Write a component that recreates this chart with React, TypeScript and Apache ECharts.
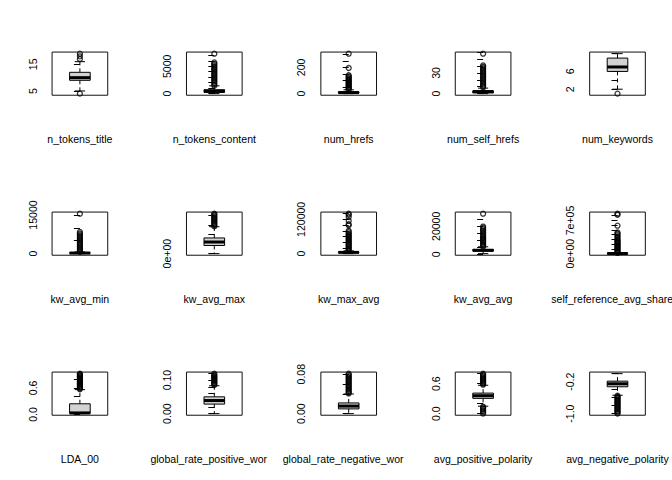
import React, { useEffect, useRef } from "react";
import * as echarts from "echarts";

const variableNames = [
  "n_tokens_title", "n_tokens_content", "num_hrefs", "num_self_hrefs", "num_keywords",
  "kw_avg_min", "kw_avg_max", "kw_max_avg", "kw_avg_avg", "self_reference_avg_sharess",
  "LDA_00", "global_rate_positive_words", "global_rate_negative_words", "avg_positive_polarity", "avg_negative_polarity",
];

// five-number box statistics per variable
const lowerWhisker = [5, 0, 0, 0, 2, 0, 0, 0, 550, 0, 0.018, 0, 0, 0.149, -0.54];
const lowerHinge = [9, 250, 4, 1, 6, 140, 172000, 3560, 2380, 1000, 0.025, 0.0284, 0.0096, 0.306, -0.328];
const medianValue = [10, 410, 8, 3, 7, 235, 245000, 4360, 2870, 2200, 0.034, 0.039, 0.0153, 0.359, -0.253];
const upperHinge = [12, 720, 14, 4, 9, 355, 331000, 6020, 3600, 5200, 0.24, 0.05, 0.0217, 0.411, -0.187];
const upperWhisker = [16, 1420, 29, 8, 10, 675, 568000, 9700, 5400, 11500, 0.56, 0.083, 0.0398, 0.568, 0];

// outliers per variable
const out_n_tokens_title = [4, 17, 18, 19];
const out_n_tokens_content = [1450, 1700, 1950, 2200, 2450, 2700, 2950, 3200, 3450, 3700, 3950, 4200, 4450, 4700, 4950, 5200, 5450, 5700, 7300];
const out_num_hrefs = [31, 38, 45, 52, 59, 66, 73, 80, 87, 94, 101, 108, 115, 123, 131, 140, 195, 304];
const out_num_self_hrefs = [9, 11, 13, 15, 17, 19, 21, 23, 25, 27, 29, 31, 33, 35, 37, 39, 41, 58];
const out_num_keywords = [1];
const out_kw_avg_min = [700, 1200, 1700, 2200, 2700, 3200, 3700, 4200, 4700, 5200, 5700, 6200, 6700, 7200, 7800, 8400, 15500];
const out_kw_avg_max = [575000, 600000, 625000, 650000, 675000, 700000, 725000, 750000, 775000, 800000, 825000, 843300];
const out_kw_max_avg = [10000, 14000, 18000, 22000, 26000, 30000, 34000, 38000, 42000, 46000, 50000, 54000, 58000, 62000, 66000, 70000, 75000, 80000, 99000, 103000, 115000, 128000, 136000, 140000];
const out_kw_avg_avg = [5500, 6300, 7100, 7900, 8700, 9500, 10300, 11100, 11900, 12800, 13800, 14800, 15800, 16800, 17800, 18800, 19800, 29000];
const out_self_reference_avg_sharess = [15000, 35000, 55000, 75000, 95000, 115000, 135000, 155000, 175000, 195000, 215000, 235000, 255000, 275000, 300000, 330000, 360000, 390000, 420000, 445000, 590000, 820000, 843300];
const out_LDA_00 = [0.57, 0.59, 0.61, 0.63, 0.65, 0.67, 0.69, 0.71, 0.73, 0.75, 0.77, 0.79, 0.81, 0.83, 0.85, 0.87, 0.89, 0.91, 0.92];
const out_global_rate_positive_words = [0.085, 0.088, 0.091, 0.094, 0.097, 0.1, 0.103, 0.106, 0.109, 0.112, 0.115, 0.119];
const out_global_rate_negative_words = [0.041, 0.0435, 0.046, 0.0485, 0.051, 0.0535, 0.056, 0.0585, 0.061, 0.0635, 0.066, 0.0685, 0.071, 0.0735, 0.076, 0.0785, 0.081];
const out_avg_positive_polarity = [0, 0.025, 0.05, 0.075, 0.1, 0.125, 0.14, 0.58, 0.6, 0.62, 0.64, 0.66, 0.68, 0.7, 0.72, 0.74, 0.76, 0.78, 0.8];
const out_avg_negative_polarity = [-0.55, -0.575, -0.6, -0.625, -0.65, -0.675, -0.7, -0.725, -0.75, -0.775, -0.8, -0.825, -0.85, -0.875, -0.9, -0.925, -0.95, -0.975, -1];

const outliers = [
  out_n_tokens_title, out_n_tokens_content, out_num_hrefs, out_num_self_hrefs, out_num_keywords,
  out_kw_avg_min, out_kw_avg_max, out_kw_max_avg, out_kw_avg_avg, out_self_reference_avg_sharess,
  out_LDA_00, out_global_rate_positive_words, out_global_rate_negative_words, out_avg_positive_polarity, out_avg_negative_polarity,
];

// y-axis tick positions
const tickValues = [
  [5, 10, 15],
  [0, 1000, 2000, 3000, 4000, 5000, 6000, 7000],
  [0, 50, 100, 150, 200, 250, 300],
  [0, 10, 20, 30, 40, 50, 60],
  [2, 4, 6, 8, 10],
  [0, 5000, 10000, 15000],
  [0, 200000, 400000, 600000, 800000],
  [0, 20000, 40000, 60000, 80000, 100000, 120000, 140000],
  [0, 5000, 10000, 15000, 20000, 25000],
  [0, 100000, 200000, 300000, 400000, 500000, 600000, 700000, 800000],
  [0, 0.2, 0.4, 0.6, 0.8],
  [0, 0.02, 0.04, 0.06, 0.08, 0.1, 0.12],
  [0, 0.02, 0.04, 0.06, 0.08],
  [0, 0.2, 0.4, 0.6, 0.8],
  [-1, -0.8, -0.6, -0.4, -0.2, 0],
];

// y-axis labelled ticks and their texts
const labelValues = [
  [5, 15], [0, 5000], [0, 200], [0, 30], [2, 6],
  [0, 15000], [0], [0, 120000], [0, 20000], [0, 700000],
  [0, 0.6], [0, 0.1], [0, 0.08], [0, 0.6], [-1, -0.2],
];
const labelTexts = [
  ["5", "15"], ["0", "5000"], ["0", "200"], ["0", "30"], ["2", "6"],
  ["0", "15000"], ["0e+00"], ["0", "120000"], ["0", "20000"], ["0e+00", "7e+05"],
  ["0.0", "0.6"], ["0.00", "0.10"], ["0.00", "0.08"], ["0.0", "0.6"], ["-1.0", "-0.2"],
];

const W = 672;
const H = 480;
const CELL_W = W / 5;
const CELL_H = H / 3;
const LINE = 12.7;
const M_LEFT = 4.1 * LINE;
const M_RIGHT = 2.1 * LINE;
const M_TOP = 4.1 * LINE;
const M_BOTTOM = 5.1 * LINE;
const PW = CELL_W - M_LEFT - M_RIGHT;
const PH = CELL_H - M_TOP - M_BOTTOM;
const FONT_SIZE = 10.56;
const FONT_FAMILY = '"Liberation Sans", Arial, Helvetica, sans-serif';

function measure(text: string): number {
  const c = document.createElement("canvas").getContext("2d");
  if (!c) return text.length * FONT_SIZE * 0.5;
  c.font = `${FONT_SIZE}px "Liberation Sans", Arial, sans-serif`;
  return c.measureText(text).width;
}

function buildOption() {
  const grid: any[] = [];
  const xAxis: any[] = [];
  const yAxis: any[] = [];
  const series: any[] = [];
  const graphic: any[] = [];

  variableNames.forEach((name, i) => {
    const col = i % 5;
    const row = Math.floor(i / 5);
    const left = col * CELL_W + M_LEFT;
    const top = row * CELL_H + M_TOP;
    grid.push({
      left, top, width: PW, height: PH,
      show: true, borderColor: "#111", borderWidth: 1, backgroundColor: "transparent",
    });

    const all = [lowerWhisker[i], upperWhisker[i], ...outliers[i]];
    const dmin = Math.min(...all);
    const dmax = Math.max(...all);
    const pad = 0.04 * (dmax - dmin);
    const yMin = dmin - pad;
    const yMax = dmax + pad;

    xAxis.push({ gridIndex: i, type: "value", min: -0.54, max: 0.54, show: false });
    const lv = labelValues[i];
    const lt = labelTexts[i];
    yAxis.push({
      gridIndex: i, type: "value", min: yMin, max: yMax,
      axisLine: { show: false },
      splitLine: { show: false },
      axisTick: {
        show: true, length: 6, inside: false,
        lineStyle: { color: "#000", width: 1 },
        customValues: tickValues[i].filter((v) => v >= yMin && v <= yMax),
      },
      axisLabel: {
        show: true, rotate: 90, margin: 14,
        fontSize: FONT_SIZE, fontFamily: FONT_FAMILY, color: "#000",
        customValues: lv,
        hideOverlap: false,
        formatter: (val: number) => {
          for (let k = 0; k < lv.length; k++) {
            if (Math.abs(lv[k] - val) <= Math.abs(lv[k]) * 1e-9 + 1e-12) return lt[k];
          }
          return "";
        },
      },
    });

    series.push({
      type: "custom",
      xAxisIndex: i, yAxisIndex: i,
      silent: true,
      data: [[0, lowerWhisker[i], lowerHinge[i], medianValue[i], upperHinge[i], upperWhisker[i]]],
      encode: { x: 0, y: [1, 2, 3, 4, 5] },
      renderItem: (params: any, api: any) => {
        const x = api.value(0);
        const pLo = api.coord([x, api.value(1)]);
        const pQ1 = api.coord([x, api.value(2)]);
        const pMed = api.coord([x, api.value(3)]);
        const pQ3 = api.coord([x, api.value(4)]);
        const pHi = api.coord([x, api.value(5)]);
        const w = api.size([0.4, 0])[0];
        const cx = pLo[0];
        const thin = { stroke: "#000", lineWidth: 1, fill: null };
        return {
          type: "group",
          children: [
            { type: "line", shape: { x1: cx, y1: pQ1[1], x2: cx, y2: pLo[1] }, style: { ...thin, lineDash: [4, 3] } },
            { type: "line", shape: { x1: cx, y1: pQ3[1], x2: cx, y2: pHi[1] }, style: { ...thin, lineDash: [4, 3] } },
            { type: "line", shape: { x1: cx - w / 4, y1: pLo[1], x2: cx + w / 4, y2: pLo[1] }, style: thin },
            { type: "line", shape: { x1: cx - w / 4, y1: pHi[1], x2: cx + w / 4, y2: pHi[1] }, style: thin },
            {
              type: "rect",
              shape: { x: cx - w / 2, y: pQ3[1], width: w, height: pQ1[1] - pQ3[1] },
              style: { fill: "#D3D3D3", stroke: "#000", lineWidth: 1 },
            },
            { type: "line", shape: { x1: cx - w / 2, y1: pMed[1], x2: cx + w / 2, y2: pMed[1] }, style: { stroke: "#000", lineWidth: 3 } },
          ],
        };
      },
    });

    series.push({
      type: "scatter",
      xAxisIndex: i, yAxisIndex: i,
      silent: true,
      symbol: "circle",
      symbolSize: 5,
      itemStyle: { color: "rgba(0,0,0,0)", borderColor: "#000", borderWidth: 1.3 },
      data: outliers[i].map((v) => [0, v]),
      z: 3,
    });

    // x label (R's xlab, clipped to its figure cell)
    const cx = left + PW / 2;
    const cy = top + PH + 44;
    const tw = measure(name);
    const clipRight = (col + 1) * CELL_W;
    if (col < 4 && cx + tw / 2 > clipRight) {
      const xl = cx - tw / 2;
      graphic.push({
        type: "text", x: xl, y: cy, silent: true,
        style: {
          text: name, fontSize: FONT_SIZE, fontFamily: FONT_FAMILY, fill: "#000",
          align: "left", verticalAlign: "middle",
          width: clipRight - xl + 3, overflow: "truncate", ellipsis: "",
        },
      });
    } else {
      graphic.push({
        type: "text", x: cx, y: cy, silent: true,
        style: {
          text: name, fontSize: FONT_SIZE, fontFamily: FONT_FAMILY, fill: "#000",
          align: "center", verticalAlign: "middle",
        },
      });
    }
  });

  return { animation: false, backgroundColor: "#fff", grid, xAxis, yAxis, series, graphic };
}

export default function App() {
  const ref = useRef<HTMLDivElement>(null);
  useEffect(() => {
    if (!ref.current) return;
    const chart = echarts.init(ref.current, null, { renderer: "svg", width: W, height: H });
    chart.setOption(buildOption() as any);
    return () => chart.dispose();
  }, []);
  return (
    <div
      ref={ref}
      style={{ position: "fixed", left: 0, top: 0, width: W, height: H, background: "#fff" }}
    />
  );
}
